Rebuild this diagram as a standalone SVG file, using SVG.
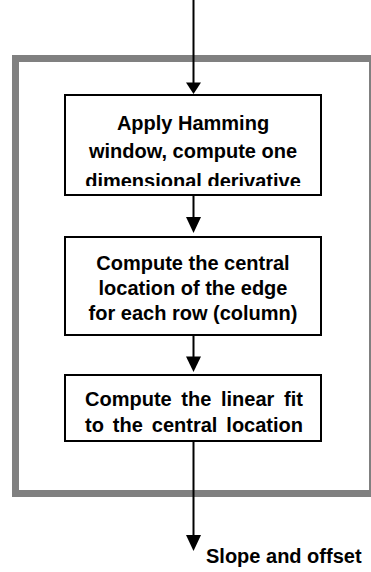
<svg xmlns="http://www.w3.org/2000/svg" width="371" height="572" viewBox="0 0 371 572">
<style>
.frame{fill:none;stroke:#808080;stroke-width:7}
.box{fill:#fff;stroke:#000;stroke-width:2}
.t{font-family:"Liberation Sans",Arial,Helvetica,sans-serif;font-weight:bold;font-size:20px;fill:#000}
.c{text-anchor:middle}
.line{stroke:#000;stroke-width:2;fill:none}
.head{fill:#000}
</style>
<defs>
<clipPath id="clip1"><rect x="66" y="96" width="254" height="90"/></clipPath>
</defs>
<rect width="371" height="572" fill="#fff"/>
<g id="frame"><rect class="frame" x="15.5" y="58.5" width="357" height="435"/></g>
<g id="node1">
<rect class="box" x="65" y="95" width="256" height="100"/>
<g clip-path="url(#clip1)">
<text class="t c" x="193" y="130">Apply Hamming</text>
<text class="t c" x="193" y="157.5">window, compute one</text>
<text class="t c" x="193" y="188">dimensional derivative</text>
</g>
</g>
<g id="node2">
<rect class="box" x="65" y="237" width="256" height="98"/>
<text class="t c" x="193" y="269.5">Compute the central</text>
<text class="t c" x="193" y="294.5">location of the edge</text>
<text class="t c" x="193" y="319.5">for each row (column)</text>
</g>
<g id="node3">
<rect class="box" x="65" y="375" width="256" height="66"/>
<text class="t" x="85" y="406" word-spacing="4.1">Compute the linear fit</text>
<text class="t" x="85" y="431.5" word-spacing="3.4">to the central location</text>
</g>
<g id="output">
<text class="t" x="206" y="563">Slope and offset</text>
</g>
<g id="connectors">
<line class="line" x1="193.5" y1="0" x2="193.5" y2="84"/>
<polygon class="head" points="186,82.5 201,82.5 193.5,94"/>
<line class="line" x1="193.5" y1="196" x2="193.5" y2="219"/>
<polygon class="head" points="186,217 201,217 193.5,233"/>
<line class="line" x1="193.5" y1="336" x2="193.5" y2="358"/>
<polygon class="head" points="186,356.5 201,356.5 193.5,372"/>
<line class="line" x1="193.5" y1="442" x2="193.5" y2="537"/>
<polygon class="head" points="186,535 201,535 193.5,551"/>
</g>
</svg>
